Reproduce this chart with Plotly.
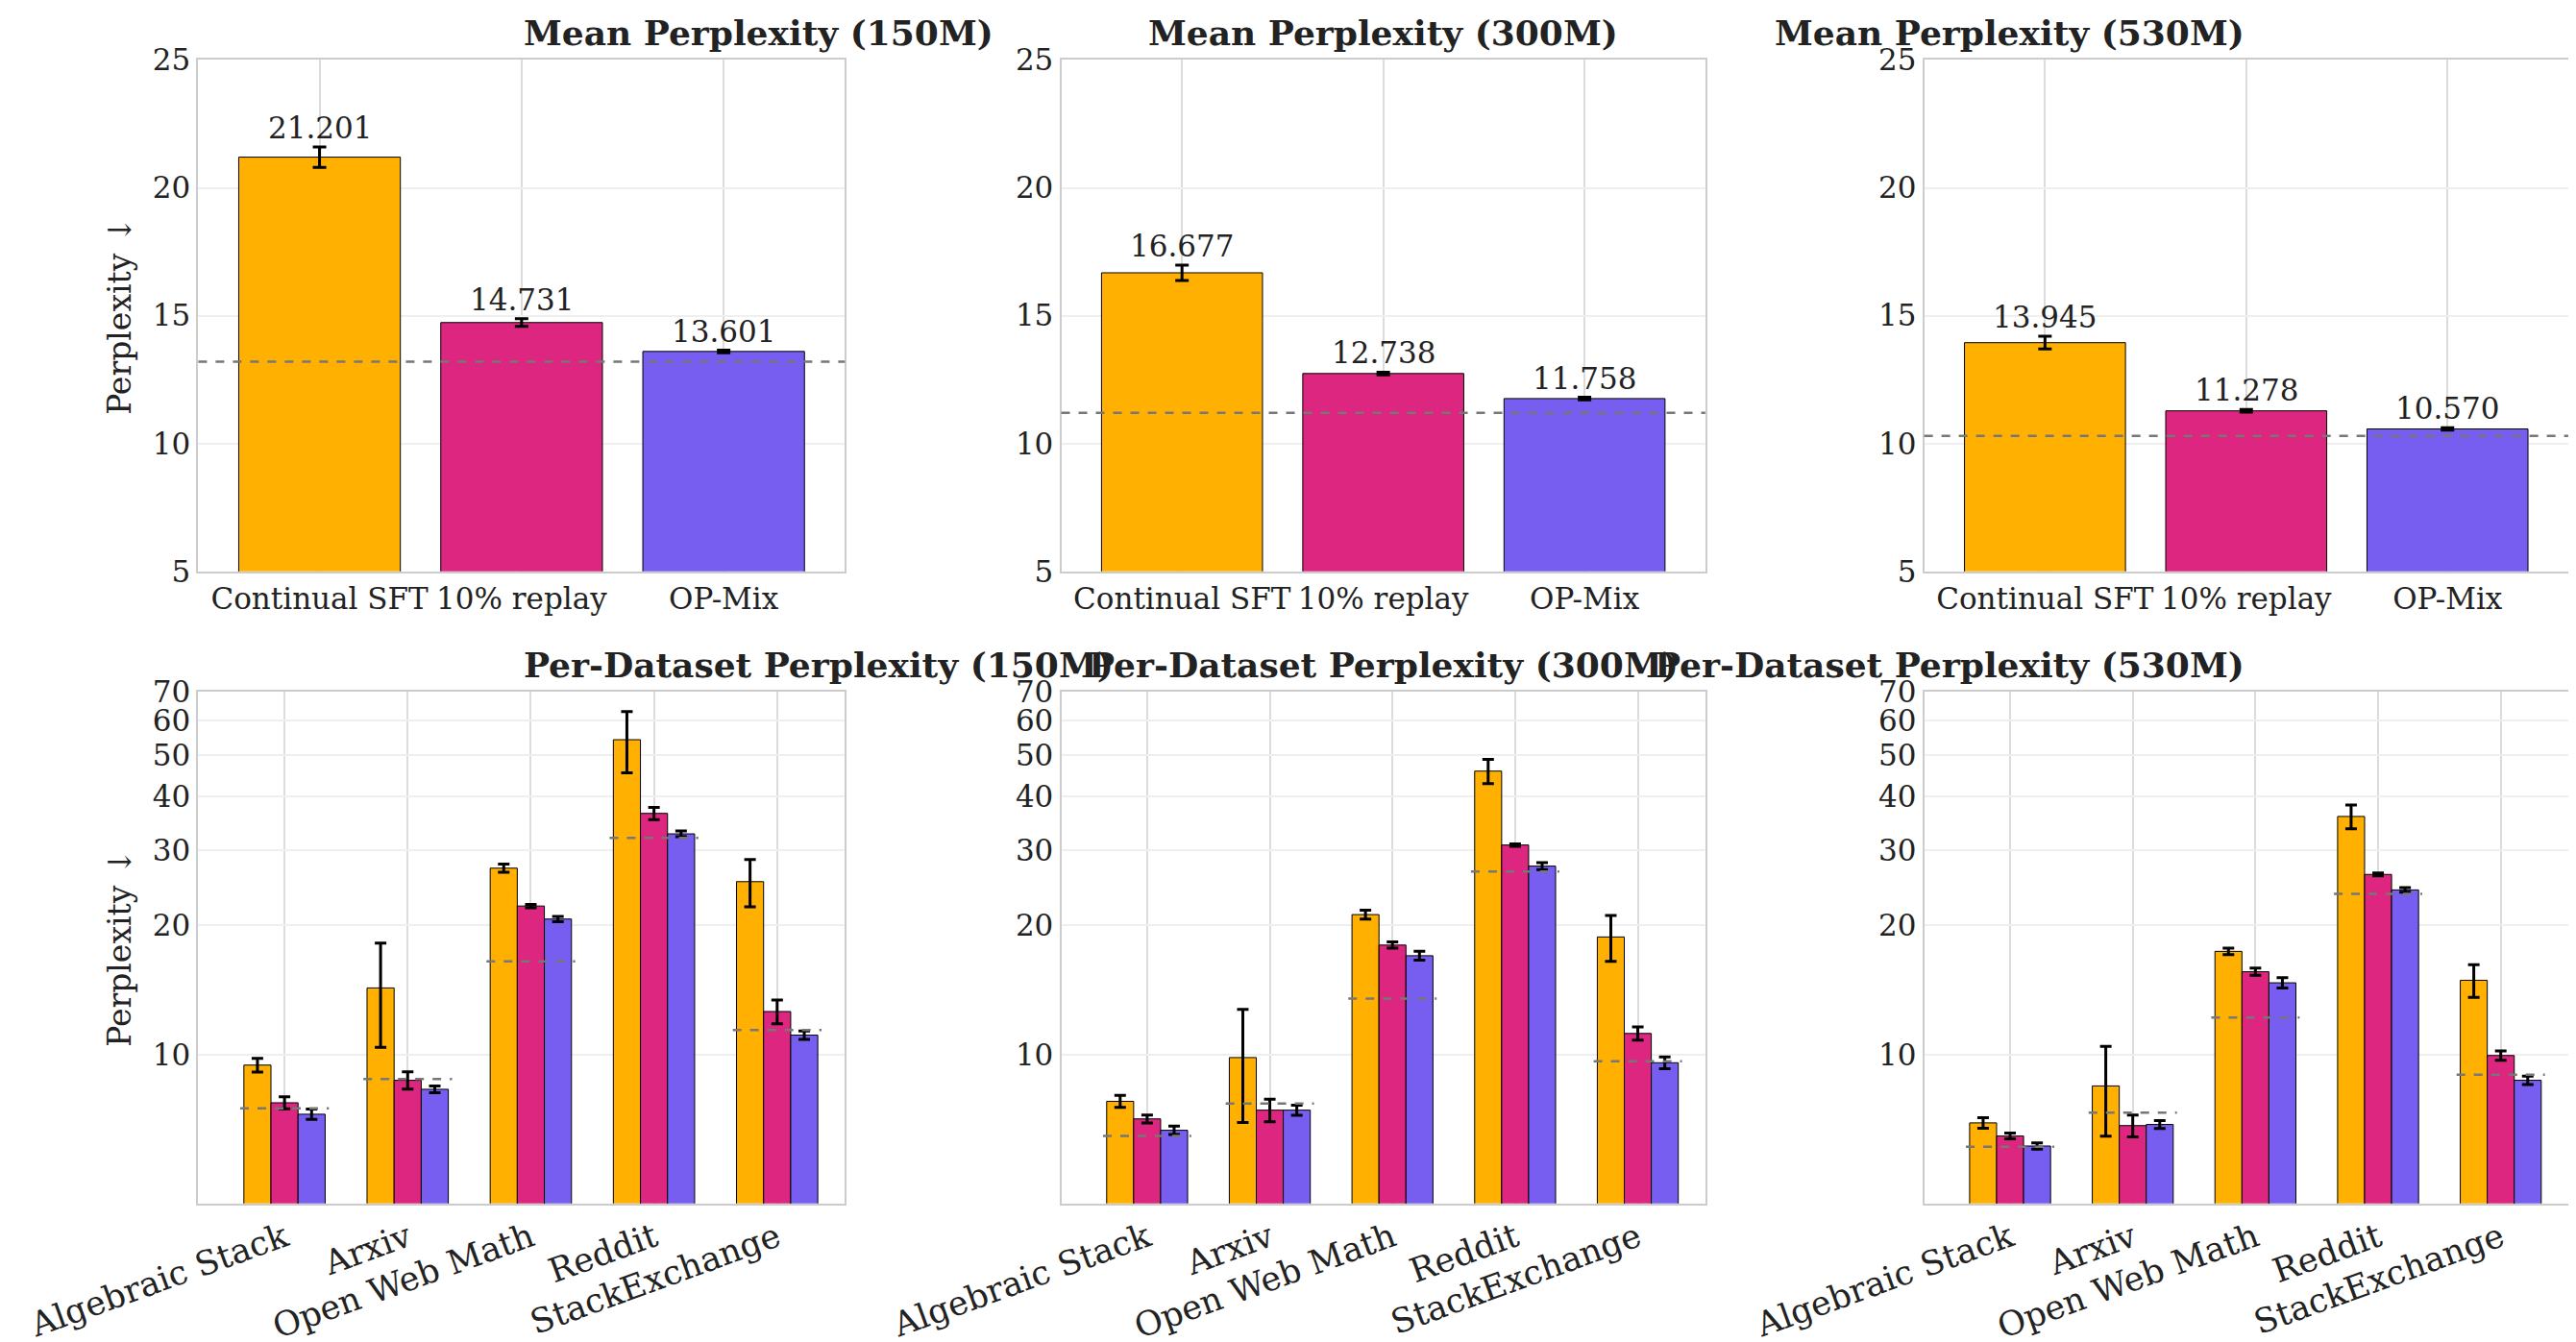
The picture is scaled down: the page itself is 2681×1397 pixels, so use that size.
import plotly.graph_objects as go
from plotly.subplots import make_subplots

methods = ["Continual SFT", "10% replay", "OP-Mix"]
colors = ["#FFB000", "#DC267F", "#785EF0"]
sizes = ["150M", "300M", "530M"]
datasets = ["Algebraic Stack", "Arxiv", "Open Web Math", "Reddit", "StackExchange"]

# mean perplexity per model size (rows: sizes, cols: methods)
mean_ppl = [[21.201, 14.731, 13.601], [16.677, 12.738, 11.758], [13.945, 11.278, 10.570]]
mean_err = [[0.4, 0.15, 0.05], [0.3, 0.05, 0.05], [0.25, 0.05, 0.05]]
mean_base = [13.2, 11.2, 10.3]

# per-dataset perplexity: [size][method][dataset]
ds_ppl = [
    [[9.45, 14.3, 27.2, 54.2, 25.3], [7.72, 8.71, 22.2, 36.5, 12.6], [7.26, 8.3, 20.7, 32.7, 11.1]],
    [[7.78, 9.84, 21.2, 45.8, 18.8], [7.08, 7.42, 18.0, 30.8, 11.2], [6.66, 7.42, 17.0, 27.5, 9.57]],
    [[6.93, 8.45, 17.4, 35.9, 14.9], [6.46, 6.83, 15.6, 26.3, 9.95], [6.12, 6.87, 14.7, 24.2, 8.71]],
]
ds_err = [
    [[0.35, 3.9, 0.6, 8.8, 3.2], [0.25, 0.4, 0.2, 1.2, 0.8], [0.2, 0.15, 0.3, 0.5, 0.25]],
    [[0.25, 2.9, 0.5, 3.0, 2.3], [0.15, 0.45, 0.3, 0.2, 0.4], [0.15, 0.2, 0.4, 0.5, 0.3]],
    [[0.2, 2.0, 0.3, 2.3, 1.3], [0.1, 0.4, 0.3, 0.2, 0.25], [0.1, 0.15, 0.4, 0.3, 0.2]],
]
ds_base = [
    [7.49, 8.77, 16.5, 32.0, 11.4],
    [6.46, 7.69, 13.5, 26.7, 9.65],
    [6.1, 7.32, 12.2, 23.7, 8.98],
]

FONT = "DejaVu Serif"
TXT = "#222"
fig = make_subplots(rows=2, cols=3)

xdom = [[0.074, 0.325], [0.409, 0.659], [0.744, 0.994]]
ydom = [[0.58, 0.961], [0.109, 0.49]]
grid = "#dcdcdc"
frame = "#cccccc"

for c in range(3):
    # top: mean perplexity
    fig.add_trace(go.Bar(
        x=methods, y=mean_ppl[c], marker=dict(color=colors, line=dict(color="black", width=1)),
        error_y=dict(type="data", array=mean_err[c], color="black", thickness=3, width=7),
        width=0.8, showlegend=False), row=1, col=c + 1)
    for m in range(3):
        fig.add_annotation(x=methods[m], y=mean_ppl[c][m] + mean_err[c][m], text=f"{mean_ppl[c][m]:.3f}",
                           showarrow=False, yanchor="bottom", font=dict(size=31, family=FONT, color=TXT),
                           row=1, col=c + 1)
    fig.add_hline(y=mean_base[c], line=dict(color="#777", dash="dash", width=2.5), row=1, col=c + 1)

    # bottom: per-dataset
    for m in range(3):
        fig.add_trace(go.Bar(
            x=list(range(len(datasets))), y=ds_ppl[c][m], name=methods[m],
            marker=dict(color=colors[m], line=dict(color="black", width=1)),
            error_y=dict(type="data", array=ds_err[c][m], color="black", thickness=3, width=6),
            width=0.22, offset=-0.33 + 0.22 * m, showlegend=False), row=2, col=c + 1)
    bx, by = [], []
    for i, v in enumerate(ds_base[c]):
        bx += [i - 0.36, i + 0.36, None]
        by += [v, v, None]
    fig.add_trace(go.Scatter(x=bx, y=by, mode="lines", line=dict(color="#777", dash="dash", width=2.5),
                             showlegend=False, hoverinfo="skip"), row=2, col=c + 1)

    fig.update_xaxes(row=1, col=c + 1, domain=xdom[c], automargin=False, showgrid=True, gridcolor=grid,
                     gridwidth=2, showline=True, linecolor=frame, linewidth=2, mirror=True, ticks="",
                     tickfont=dict(size=31, family=FONT, color=TXT), range=[-0.6, 2.6])
    fig.update_yaxes(row=1, col=c + 1, domain=ydom[0], automargin=False, range=[5, 25],
                     tickvals=[5, 10, 15, 20, 25], showgrid=True, gridcolor="#efefef", gridwidth=1.5,
                     showline=True, linecolor=frame, linewidth=2, mirror=True,
                     tickfont=dict(size=31, family=FONT, color=TXT), zeroline=False)
    fig.update_xaxes(row=2, col=c + 1, domain=xdom[c], automargin=False, tickvals=list(range(5)),
                     ticktext=datasets, tickangle=-20, range=[-0.7, 4.55], showgrid=True, gridcolor=grid,
                     gridwidth=2, showline=True, linecolor=frame, linewidth=2, mirror=True,
                     tickfont=dict(size=35, family=FONT, color=TXT), zeroline=False)
    fig.update_yaxes(row=2, col=c + 1, domain=ydom[1], automargin=False, type="log", range=[0.653, 1.845],
                     tickvals=[10, 20, 30, 40, 50, 60, 70], showgrid=True, gridcolor="#efefef", gridwidth=1.5,
                     showline=True, linecolor=frame, linewidth=2, mirror=True,
                     tickfont=dict(size=31, family=FONT, color=TXT))

    fig.add_annotation(text=f"<b>Mean Perplexity ({sizes[c]})</b>", xref="paper", yref="paper",
                       x=sum(xdom[c]) / 2, y=ydom[0][1] + 0.004, yanchor="bottom", showarrow=False,
                       font=dict(size=36, family=FONT, color=TXT))
    fig.add_annotation(text=f"<b>Per-Dataset Perplexity ({sizes[c]})</b>", xref="paper", yref="paper",
                       x=sum(xdom[c]) / 2, y=ydom[1][1] + 0.004, yanchor="bottom", showarrow=False,
                       font=dict(size=36, family=FONT, color=TXT))

for r in (1, 2):
    fig.update_yaxes(row=r, col=1, title=dict(text="Perplexity ↓", font=dict(size=33, family=FONT, color=TXT),
                                             standoff=12))

fig.update_layout(width=2681, height=1397, autosize=False, plot_bgcolor="white", paper_bgcolor="white",
                  margin=dict(l=0, r=0, t=0, b=0, autoexpand=False))
fig.write_html("out.html")
